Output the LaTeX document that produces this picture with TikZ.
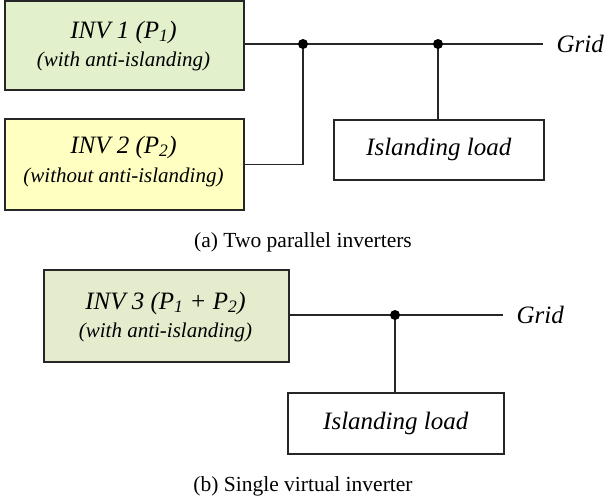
\documentclass[tikz,border=0pt]{standalone}
\usepackage{fontspec}
\setmainfont{Liberation Serif}
% italic subscript set in the text font
\newcommand{\idx}[1]{\textsubscript{\itshape #1}}
\begin{document}
\begin{tikzpicture}[x=1pt,y=-1pt,
  wire/.style={line width=1.6pt,black!85},
  box/.style={draw=black!85,line width=1.6pt,minimum height=#1,inner sep=0pt},
  invA/.style={fill={rgb,255:red,226;green,240;blue,204}},
  invB/.style={fill={rgb,255:red,255;green,255;blue,194}},
  invC/.style={fill={rgb,255:red,229;green,236;blue,206}},
  dot/.style={circle,fill=black,inner sep=0pt,minimum size=10pt},
  lbl/.style={font=\itshape\fontsize{25}{28}\selectfont},
  sub/.style={font=\itshape\fontsize{21}{24}\selectfont},
  captext/.style={font=\fontsize{21.5}{24}\selectfont}]
\useasboundingbox (0,0) rectangle (607,503);
% (a) two parallel inverters
\node[box=89pt,invA,minimum width=239pt,anchor=north west] (inv1) at (4,0) {};
\node[lbl] at (123.5,32) {INV 1 (P\idx{1})};
\node[sub] at (123.5,61) {(with anti-islanding)};
\node[box=91pt,invB,minimum width=239pt,anchor=north west] (inv2) at (4,118) {};
\node[lbl] at (123.5,147) {INV 2 (P\idx{2})};
\node[sub] at (123.5,177) {(without anti-islanding)};
\node[box=60pt,minimum width=210pt,anchor=north west,lbl] (loadA) at (333,119) {Islanding load};
\coordinate (jA1) at (303,44);
\coordinate (jA2) at (438,44);
\coordinate (endA) at (543,44);
\node[lbl,anchor=west] (gridA) at (553,44) {Grid};
\draw[wire] (inv1.east |- jA1) -- (endA);
\draw[wire] (inv2.east) -| (jA1);
\draw[wire] (jA2) -- (loadA.north -| jA2);
\node[dot] at (jA1) {};
\node[dot] at (jA2) {};
\node[captext] (capA) at (303,242) {(a) Two parallel inverters};
% (b) single virtual inverter
\node[box=92pt,invC,minimum width=245pt,anchor=north west] (inv3) at (43,269) {};
\node[lbl] at (165.5,303) {INV 3 (P\idx{1} + P\idx{2})};
\node[sub] at (165.5,332) {(with anti-islanding)};
\node[box=61pt,minimum width=216pt,anchor=north west,lbl] (loadB) at (287,392) {Islanding load};
\coordinate (jB) at (395,315);
\coordinate (endB) at (503,315);
\node[lbl,anchor=west] (gridB) at (513,315) {Grid};
\draw[wire] (inv3.east |- jB) -- (endB);
\draw[wire] (jB) -- (loadB.north -| jB);
\node[dot] at (jB) {};
\node[captext] (capB) at (303,486) {(b) Single virtual inverter};
\end{tikzpicture}
\end{document}
